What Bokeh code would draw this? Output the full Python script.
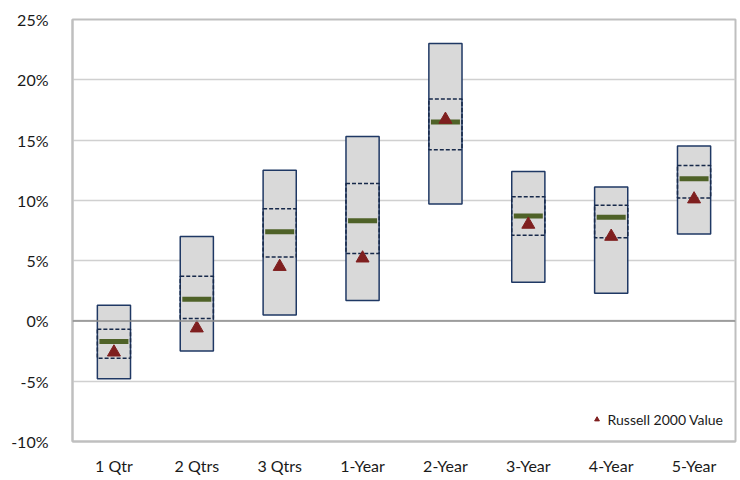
from bokeh.plotting import figure
from bokeh.models import FixedTicker, Span, Legend, LegendItem, ColumnDataSource
from bokeh.embed import file_html
from bokeh.resources import INLINE

categories = ["1 Qtr", "2 Qtrs", "3 Qtrs", "1-Year", "2-Year", "3-Year", "4-Year", "5-Year"]
range_max = [1.3, 7.0, 12.5, 15.3, 23.0, 12.4, 11.1, 14.5]
range_min = [-4.8, -2.5, 0.5, 1.7, 9.7, 3.2, 2.3, 7.2]
quart_hi = [-0.7, 3.7, 9.3, 11.4, 18.4, 10.3, 9.6, 12.9]
quart_lo = [-3.1, 0.2, 5.3, 5.6, 14.2, 7.1, 6.9, 10.2]
median = [-1.7, 1.8, 7.4, 8.3, 16.5, 8.7, 8.6, 11.8]
russell = [-2.6, -0.6, 4.5, 5.2, 16.7, 8.0, 7.0, 10.1]
y_ticks = [-10, -5, 0, 5, 10, 15, 20, 25]

src = ColumnDataSource(dict(cat=categories, mx=range_max, mn=range_min,
                            qh=quart_hi, ql=quart_lo, med=median, r=russell))

FONT = "Lato"

p = figure(x_range=categories, y_range=(-10, 25), width=738, height=477,
           output_backend="svg", toolbar_location=None,
           min_border_left=72, min_border_right=3, min_border_top=19, min_border_bottom=34)

p.vbar(x="cat", top="mx", bottom="mn", width=0.4, source=src,
       fill_color="#D9D9D9", line_color="#1F3864", line_width=1.5)
p.vbar(x="cat", top="qh", bottom="ql", width=0.4, source=src,
       fill_alpha=0, line_color="#17294A", line_width=1.5, line_dash="4 2")
p.rect(x="cat", y="med", width=0.35, height=5, height_units="screen", source=src,
       fill_color="#4F6228", line_color=None)
tri = p.scatter(x="cat", y="r", marker="triangle", size=13, source=src,
                fill_color="#7F1F1F", line_color="#7F1F1F")

p.add_layout(Span(location=0, dimension="width", line_color="#8C8C8C", line_width=1.5))

p.xgrid.grid_line_color = None
p.ygrid.grid_line_color = "#D0D0D0"
p.ygrid.grid_line_width = 1.5
p.yaxis.ticker = FixedTicker(ticks=y_ticks)
p.yaxis.major_label_overrides = {t: f"{t}%" for t in y_ticks}

for ax in (p.xaxis, p.yaxis):
    ax.major_tick_line_color = None
    ax.minor_tick_line_color = None
    ax.axis_line_color = "#BFBFBF"
    ax.axis_line_width = 2
    ax.major_label_text_font = FONT
    ax.major_label_text_font_size = "16px"
    ax.major_label_text_color = "#1A1A1A"
p.yaxis.major_label_standoff = 18
p.xaxis.major_label_standoff = 8

p.outline_line_color = "#BFBFBF"
p.outline_line_width = 2

legend = Legend(items=[LegendItem(label="Russell 2000 Value", renderers=[tri])],
                location="bottom_right", border_line_color=None, background_fill_alpha=0,
                label_text_font=FONT, label_text_font_size="14px", label_text_color="#1A1A1A",
                glyph_width=12, label_standoff=5, margin=12, padding=4)
p.add_layout(legend)

open("out.html", "w").write(file_html(p, INLINE))
